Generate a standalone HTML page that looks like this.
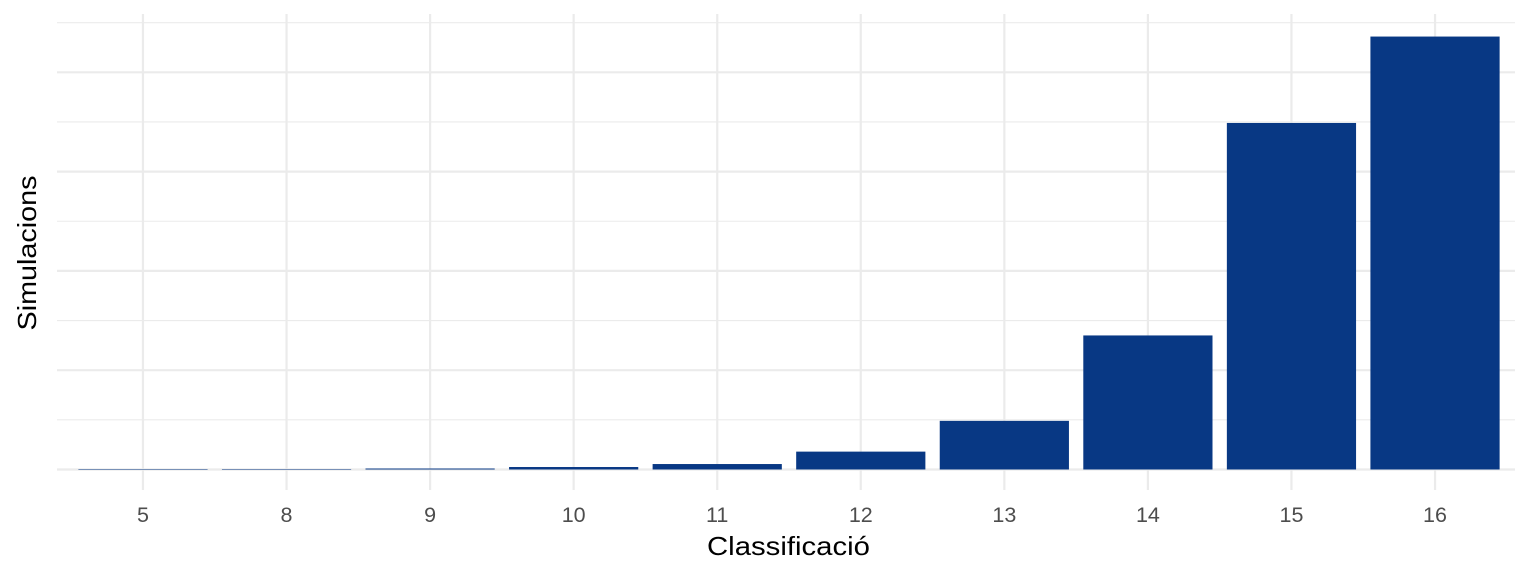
<!DOCTYPE html>
<html><head><meta charset="utf-8"><style>
body{margin:0;background:#fff;}
svg text{font-family:"Liberation Sans",sans-serif;}
</style></head><body>
<svg id="chart" width="1536" height="576"></svg>
<script>
const categories=["5","8","9","10","11","12","13","14","15","16"];
const values=[0.001,0.003,0.01,0.025,0.055,0.18,0.49,1.35,3.49,4.36];
const yTicks=[0,0.5,1,1.5,2,2.5,3,3.5,4,4.5];
const svg=document.getElementById('chart');
const NS='http://www.w3.org/2000/svg';
const gx0=57,gx1=1515,x0=71.2,x1=1506.8,base=469.5,unit=99.3;
const step=(x1-x0)/categories.length;
const xc=i=>x0+step*(i+0.5);
const y=v=>base-v*unit;
function mk(t,a,p){const e=document.createElementNS(NS,t);for(const k in a)e.setAttribute(k,a[k]);(p||svg).appendChild(e);return e;}
yTicks.forEach((t,i)=>{const g=mk('line',{x1:gx0,x2:gx1,y1:y(t),y2:y(t),stroke:'#ebebeb','stroke-width':i%2===0?2.2:1.1});

});
categories.forEach((c,i)=>{const g=mk('line',{x1:xc(i),x2:xc(i),y1:14,y2:490,stroke:'#ebebeb','stroke-width':2.2});

});
categories.forEach((c,i)=>{
const w=step*0.9;const h=values[i]*unit;
const r=mk('rect',{x:xc(i)-w/2,y:base-h,width:w,height:Math.max(h,0.5),fill:'#083884'});


const t=mk('text',{x:xc(i),y:522,'text-anchor':'middle','font-size':21.5,fill:'#4d4d4d'});t.textContent=c;


});
const xt=mk('text',{x:788.5,y:555,'text-anchor':'middle','font-size':26,fill:'#000',textLength:163,lengthAdjust:'spacingAndGlyphs'});xt.textContent='Classificació';


const yt=mk('text',{x:36,y:253,'text-anchor':'middle','font-size':26,fill:'#000',textLength:155,lengthAdjust:'spacingAndGlyphs',transform:'rotate(-90 36 253)'});yt.textContent='Simulacions';


</script>
</body></html>
